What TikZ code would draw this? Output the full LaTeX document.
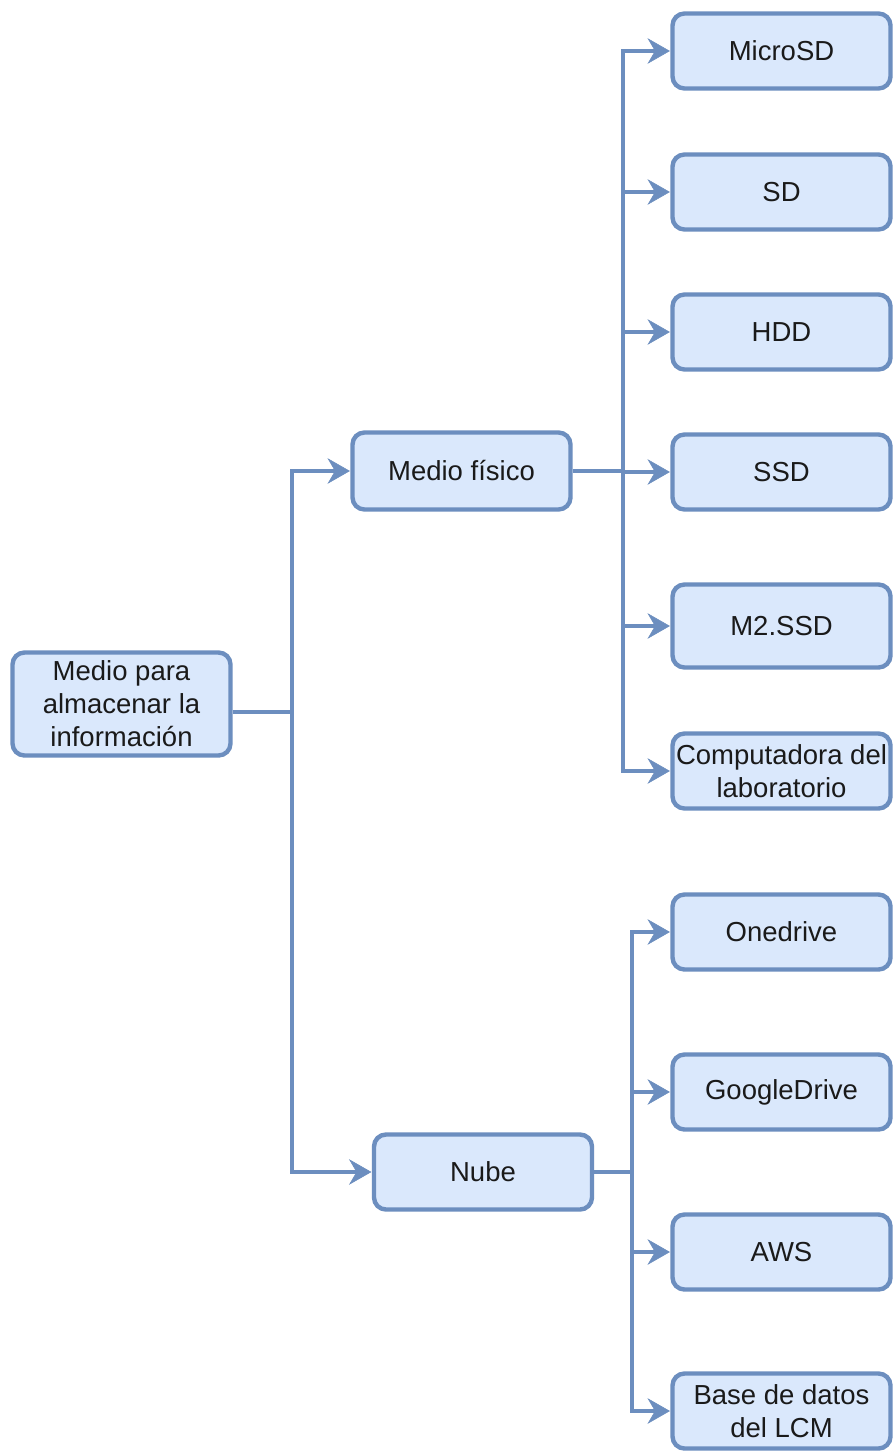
\documentclass[tikz,border=0pt]{standalone}
\usepackage{fontspec}
\setmainfont{Liberation Sans}
\definecolor{boxfill}{HTML}{DAE8FC}
\definecolor{boxline}{HTML}{6C8EBF}
\definecolor{txt}{HTML}{1A1A1A}
\tikzset{
  boxnode/.style={draw=boxline, fill=boxfill, line width=4.4pt, rounded corners=12pt,
    inner sep=0pt, align=center, text=txt,
    font=\fontsize{27.5pt}{33pt}\selectfont,
    minimum width=218pt, minimum height=75pt},
  plainconn/.style={draw=boxline, line width=3.4pt},
  headfill/.style={fill=boxline, draw=boxline, line width=0.6pt, line join=miter}
}
% filled arrow head whose tip is at the west anchor of node #1
\newcommand{\headat}[1]{%
  \filldraw[headfill] ([xshift=-1pt]#1.west) -- ++(-21,-12) -- ++(7,12) -- ++(-7,12) -- cycle;}
\begin{document}
\begin{tikzpicture}[x=1pt,y=-1pt]
\useasboundingbox (0,0) rectangle (896,1453);
\fill[white] (0,0) rectangle (896,1453);
% nodes
\node[boxnode, minimum height=103pt] (root) at (121.5,704) {Medio para\\almacenar la\\información};
\node[boxnode, minimum height=77pt] (medio) at (461.5,471) {Medio físico};
\node[boxnode] (nube) at (483,1172) {Nube};
\node[boxnode] (microsd) at (781.5,51) {MicroSD};
\node[boxnode] (sd) at (781.5,192) {SD};
\node[boxnode] (hdd) at (781.5,332) {HDD};
\node[boxnode] (ssd) at (781.5,472) {SSD};
\node[boxnode, minimum height=83pt] (m2) at (781.5,626) {M2.SSD};
\node[boxnode] (comp) at (781.5,771) {Computadora del\\laboratorio};
\node[boxnode] (onedrive) at (781.5,932) {Onedrive};
\node[boxnode] (gdrive) at (781.5,1092) {GoogleDrive};
\node[boxnode] (aws) at (781.5,1252) {AWS};
\node[boxnode] (bd) at (781.5,1411) {Base de datos\\del LCM};
% junction columns
\coordinate (jr) at (292,0);
\coordinate (jm) at (623,0);
\coordinate (jn) at (632,0);
% root connectors
\coordinate (rout) at ([yshift=-8pt]root.east);
\draw[plainconn] (rout) -- (rout -| jr);
\foreach \c in {medio,nube}{
  \draw[plainconn] (rout -| jr) |- ([xshift=-14pt]\c.west);
  \headat{\c}
}
% medio fisico connectors
\draw[plainconn] (medio.east) -- (medio.east -| jm);
\foreach \c in {microsd,sd,hdd,ssd,m2,comp}{
  \draw[plainconn] (medio.east -| jm) |- ([xshift=-14pt]\c.west);
  \headat{\c}
}
% nube connectors
\draw[plainconn] (nube.east) -- (nube.east -| jn);
\foreach \c in {onedrive,gdrive,aws,bd}{
  \draw[plainconn] (nube.east -| jn) |- ([xshift=-14pt]\c.west);
  \headat{\c}
}
\end{tikzpicture}
\end{document}
